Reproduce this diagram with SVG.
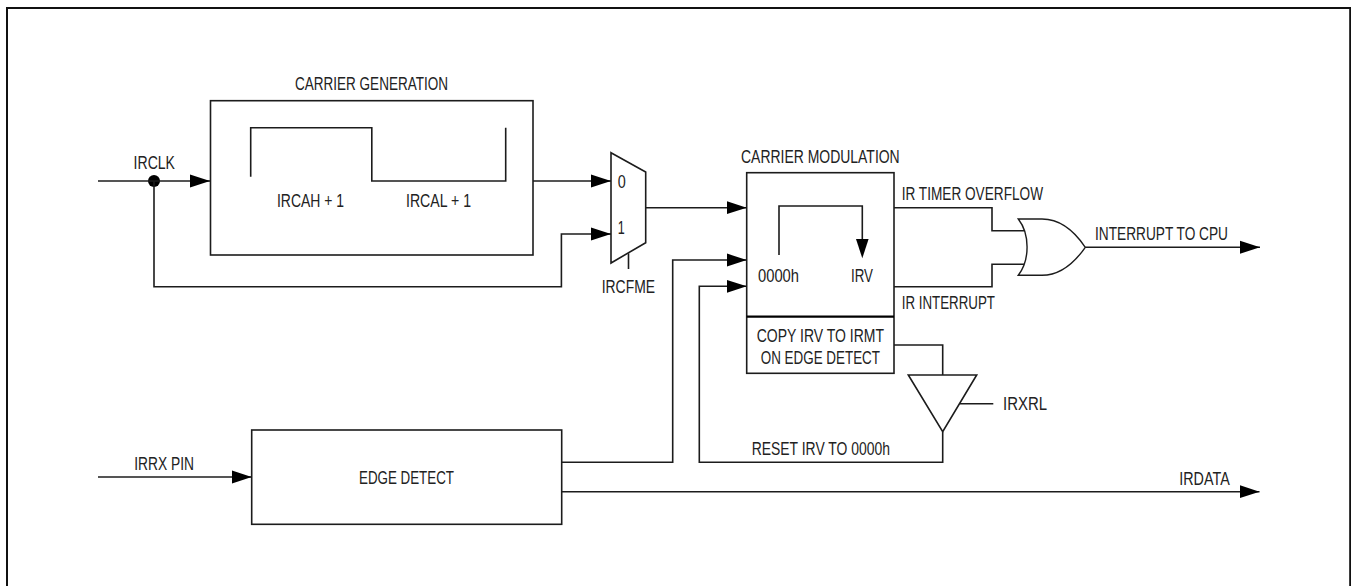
<svg xmlns="http://www.w3.org/2000/svg" width="1351" height="586" viewBox="0 0 1351 586">
<style>
.w{fill:none;stroke:#1c1c1c;stroke-width:1.6}
.a{marker-end:url(#ah)}
text{font-family:"Liberation Sans",Arial,sans-serif;font-size:18px;fill:#222;stroke:#fff;stroke-width:0}
</style>
<defs><marker id="ah" markerUnits="userSpaceOnUse" markerWidth="20" markerHeight="14" refX="20" refY="7" orient="auto"><path d="M0 0.5L20 7L0 13.5Z" fill="#000"/></marker></defs>
<rect width="1351" height="586" fill="#fff"/>
<path d="M7 590V8H1350.2V590" fill="none" stroke="#111" stroke-width="2"/>
<g id="carrier-generation">
<rect class="w" x="210.5" y="100.7" width="322.5" height="154.3"/>
<path class="w" d="M250.7 176.7V127.7H371.8V181H505.7V127.7"/>
<text x="295" y="90" textLength="153" lengthAdjust="spacingAndGlyphs">CARRIER GENERATION</text>
<text x="277" y="207" textLength="67" lengthAdjust="spacingAndGlyphs">IRCAH + 1</text>
<text x="406" y="207" textLength="65" lengthAdjust="spacingAndGlyphs">IRCAL + 1</text>
</g>
<g id="mux">
<path class="w" d="M611 152.7L645.7 172V242.7L611 263Z"/>
<path class="w" d="M628.5 253.3V269"/>
<text x="617.7" y="188.3" textLength="8" lengthAdjust="spacingAndGlyphs">0</text>
<text x="617.7" y="234" textLength="7" lengthAdjust="spacingAndGlyphs">1</text>
<text x="601.7" y="292.7" textLength="53.3" lengthAdjust="spacingAndGlyphs">IRCFME</text>
</g>
<g id="carrier-modulation">
<rect class="w" x="746.7" y="172.7" width="147.3" height="200.6"/>
<path d="M746.7 316.7H894" fill="none" stroke="#000" stroke-width="2.2"/>
<path class="w" d="M779 255V206H862.3V240"/>
<path d="M856 239H868.6L862.3 258.3Z" fill="#000"/>
<text x="741" y="162.7" textLength="158.7" lengthAdjust="spacingAndGlyphs">CARRIER MODULATION</text>
<text x="758" y="281.7" textLength="41" lengthAdjust="spacingAndGlyphs">0000h</text>
<text x="851" y="281.7" textLength="22" lengthAdjust="spacingAndGlyphs">IRV</text>
<text x="756.7" y="341.7" textLength="127.3" lengthAdjust="spacingAndGlyphs">COPY IRV TO IRMT</text>
<text x="760.7" y="364" textLength="119.3" lengthAdjust="spacingAndGlyphs">ON EDGE DETECT</text>
</g>
<g id="or-gate">
<path d="M1018.3 219H1042C1060 219 1075 232 1085.3 247.3C1075 262 1060 275.3 1042 275.3H1018.3C1030 260 1030 234 1018.3 219Z" fill="none" stroke="#1c1c1c" stroke-width="1.4"/>
</g>
<g id="buffer">
<path class="w" d="M908.3 375H976.7L942.7 431.7Z"/>
<text x="1003" y="410" textLength="44" lengthAdjust="spacingAndGlyphs">IRXRL</text>
</g>
<g id="edge-detect">
<rect class="w" x="251.7" y="430" width="310" height="94.3"/>
<text x="359" y="484" textLength="95" lengthAdjust="spacingAndGlyphs">EDGE DETECT</text>
</g>
<g id="connectors">
<circle cx="154" cy="181" r="6" fill="#000"/>
<path class="w a" d="M98 181H210"/>
<path class="w a" d="M154 181V286.7H561.4V234H611"/>
<path class="w a" d="M533 181H611"/>
<path class="w a" d="M646 207.7H746.7"/>
<path class="w a" d="M561.7 462.3H672.7V260H746.7"/>
<path class="w a" d="M942.7 431.7V462.3H699.3V286.3H746.7"/>
<path class="w" d="M894 345H942.7V375"/>
<path class="w" d="M960 403.7H993.3"/>
<path class="w" d="M894 207.7H992V230.7H1024"/>
<path class="w" d="M894 286.7H992V264.3H1024"/>
<path class="w a" d="M1085.3 247.3H1260"/>
<path class="w a" d="M98 477H251.7"/>
<path class="w a" d="M561.7 491.7H1259.5"/>
</g>
<g id="labels">
<text x="133.6" y="169" textLength="41.4" lengthAdjust="spacingAndGlyphs">IRCLK</text>
<text x="901.7" y="200" textLength="141.3" lengthAdjust="spacingAndGlyphs">IR TIMER OVERFLOW</text>
<text x="901.7" y="309.3" textLength="93.3" lengthAdjust="spacingAndGlyphs">IR INTERRUPT</text>
<text x="1095" y="240" textLength="133" lengthAdjust="spacingAndGlyphs">INTERRUPT TO CPU</text>
<text x="134.3" y="470" textLength="59.7" lengthAdjust="spacingAndGlyphs">IRRX PIN</text>
<text x="751.7" y="455" textLength="138.3" lengthAdjust="spacingAndGlyphs">RESET IRV TO 0000h</text>
<text x="1179.3" y="485" textLength="50.4" lengthAdjust="spacingAndGlyphs">IRDATA</text>
</g>
</svg>
